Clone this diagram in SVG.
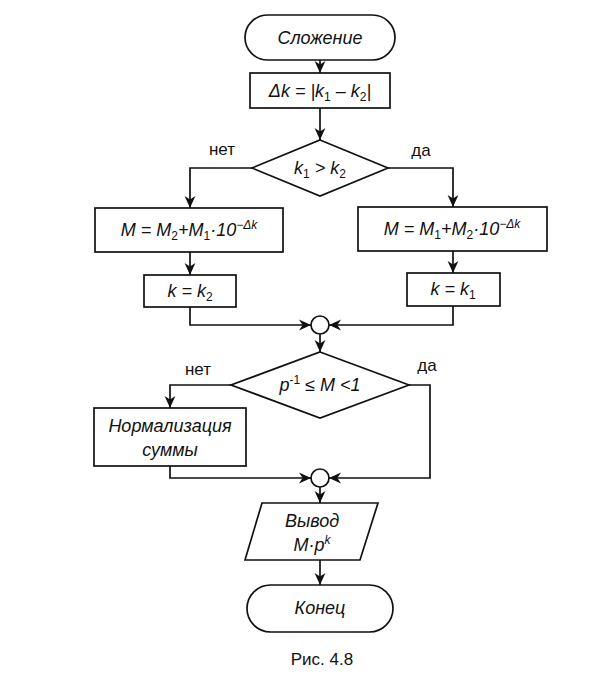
<svg xmlns="http://www.w3.org/2000/svg" width="597" height="677" viewBox="0 0 597 677">
<defs>
<marker id="arr" markerUnits="userSpaceOnUse" markerWidth="12" markerHeight="12" viewBox="0 0 10 10" refX="10" refY="5" orient="auto">
<path d="M0,0.5 L10,5 L0,9.5 L3,5 z" fill="#111"/>
</marker>
<style>
.s{fill:none;stroke:#111;stroke-width:1.7}
.b{fill:#fff;stroke:#111;stroke-width:1.7}
.t{font-family:"Liberation Sans",Arial,sans-serif;font-size:18px;fill:#111;text-anchor:middle}
.i{font-style:italic}
.n{font-style:normal}
.l{font-family:"Liberation Sans",Arial,sans-serif;font-size:17px;fill:#111;text-anchor:middle}
</style>
</defs>
<rect width="597" height="677" fill="#fff"/>
<g id="connectors" class="s" marker-end="url(#arr)">
<path d="M320,60 V73"/>
<path d="M320,108 V140"/>
<path d="M252,168 H190 V208"/>
<path d="M388,168 H453 V207"/>
<path d="M190,252 V275"/>
<path d="M453,251 V273"/>
<path d="M190,307 V325 H311"/>
<path d="M453,306 V325 H329"/>
<path d="M320,334 V352"/>
<path d="M231,385 H170 V408"/>
<path d="M170,466 V478 H311"/>
<path d="M409,385 H430 V478 H329"/>
<path d="M320,487 V503"/>
<path d="M320,560 V585"/>
</g>
<g id="start">
<rect class="b" x="245" y="15" width="150" height="45" rx="22.5"/>
<text class="t i" x="320" y="44">Сложение</text>
</g>
<g id="delta">
<rect class="b" x="250" y="73" width="140" height="35"/>
<text class="t i" x="320" y="97">Δk = |k<tspan class="n" font-size="12" dy="4">1</tspan><tspan dy="-4"> – k</tspan><tspan class="n" font-size="12" dy="4">2</tspan><tspan dy="-4">|</tspan></text>
</g>
<g id="cond1">
<polygon class="b" points="320,140 388,168 320,196 252,168"/>
<text class="t i" x="320" y="174">k<tspan class="n" font-size="12" dy="4">1</tspan><tspan dy="-4"> &gt; k</tspan><tspan class="n" font-size="12" dy="4">2</tspan></text>
</g>
<text class="l" x="222" y="155">нет</text>
<text class="l" x="421" y="156">да</text>
<g id="mLeft">
<rect class="b" x="95" y="208" width="188" height="44"/>
<text class="t i" x="189" y="236">M = M<tspan class="n" font-size="12" dy="4">2</tspan><tspan dy="-4">+M</tspan><tspan class="n" font-size="12" dy="4">1</tspan><tspan dy="-4">·10</tspan><tspan font-size="12" dy="-7">−Δk</tspan></text>
</g>
<g id="mRight">
<rect class="b" x="358" y="207" width="189" height="44"/>
<text class="t i" x="452" y="235">M = M<tspan class="n" font-size="12" dy="4">1</tspan><tspan dy="-4">+M</tspan><tspan class="n" font-size="12" dy="4">2</tspan><tspan dy="-4">·10</tspan><tspan font-size="12" dy="-7">−Δk</tspan></text>
</g>
<g id="kLeft">
<rect class="b" x="144" y="275" width="92" height="32"/>
<text class="t i" x="190" y="297">k = k<tspan class="n" font-size="12" dy="4">2</tspan></text>
</g>
<g id="kRight">
<rect class="b" x="407" y="273" width="93" height="33"/>
<text class="t i" x="453" y="295">k = k<tspan class="n" font-size="12" dy="4">1</tspan></text>
</g>
<g id="join1">
<circle class="b" cx="320" cy="325" r="9"/>
</g>
<g id="cond2">
<polygon class="b" points="320,352 409,385 320,418 231,385"/>
<text class="t i" x="320" y="391">p<tspan class="n" font-size="12" dy="-7">-1</tspan><tspan dy="7"> ≤ M &lt;1</tspan></text>
</g>
<text class="l" x="198" y="375">нет</text>
<text class="l" x="427" y="371">да</text>
<g id="norm">
<rect class="b" x="94" y="408" width="152" height="58"/>
<text class="t i" x="170" y="432">Нормализация</text>
<text class="t i" x="170" y="456">суммы</text>
</g>
<g id="join2">
<circle class="b" cx="320" cy="478" r="9"/>
</g>
<g id="output">
<polygon class="b" points="262,503 378,503 360,560 245,560"/>
<text class="t i" x="312" y="527">Вывод</text>
<text class="t i" x="312" y="551">M·p<tspan font-size="12" dy="-7">k</tspan></text>
</g>
<g id="end">
<rect class="b" x="247" y="585" width="146" height="47" rx="23.5"/>
<text class="t i" x="320" y="614">Конец</text>
</g>
<text class="l" x="322" y="665">Рис. 4.8</text>
</svg>
